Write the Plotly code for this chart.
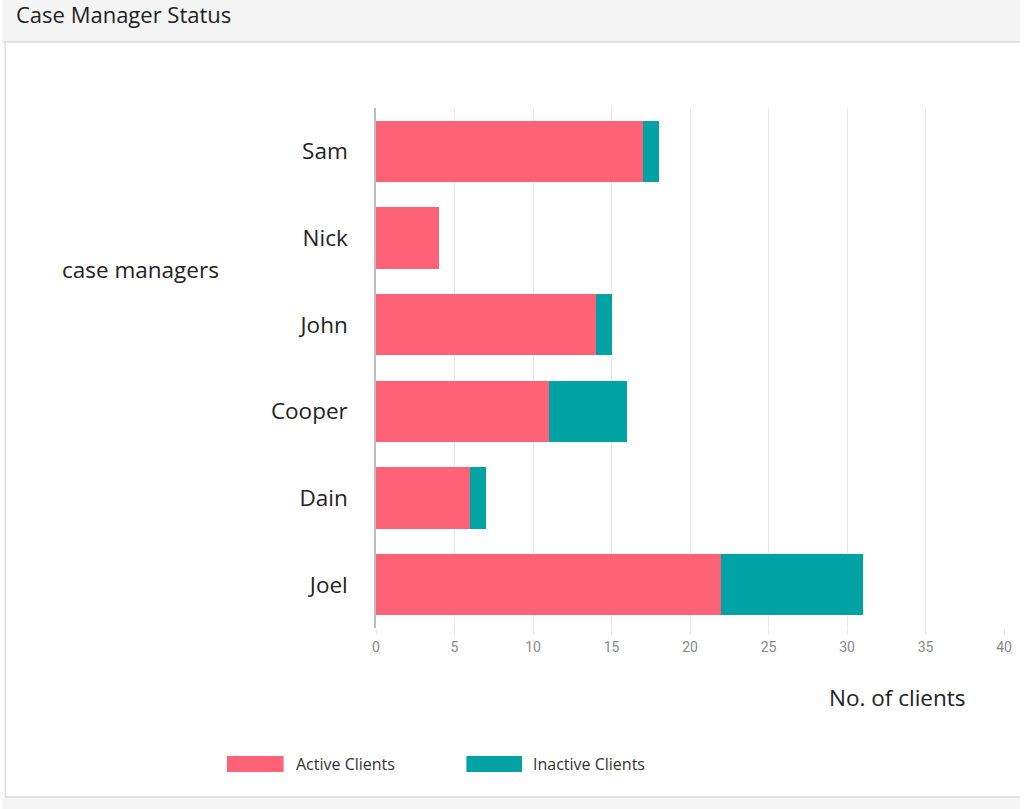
import plotly.graph_objects as go

# dados
managers = ['Sam', 'Nick', 'John', 'Cooper', 'Dain', 'Joel']
active_clients = [17, 4, 14, 11, 6, 22]
inactive_clients = [1, 0, 1, 5, 1, 9]
x_ticks = [0, 5, 10, 15, 20, 25, 30, 35, 40]

W, H = 1024, 809
L, R, T, B = 376, 16, 108, 181
PW, PH = W - L - R, H - T - B


# converte pixels da página para coordenadas "paper"
def px(x):
    return (x - L) / PW


def py(y):
    return (H - B - y) / PH


red = '#fd6276'
teal = '#00a2a3'
font = 'Open Sans'

fig = go.Figure()
fig.add_trace(go.Bar(y=managers, x=active_clients, orientation='h', name='Active Clients',
                     marker=dict(color=red, line=dict(width=0))))
fig.add_trace(go.Bar(y=managers, x=inactive_clients, orientation='h', name='Inactive Clients',
                     marker=dict(color=teal, line=dict(width=0))))

shapes = [
    # cabeçalho cinza
    dict(type='rect', xref='paper', yref='paper', x0=px(0), x1=px(W), y0=py(42), y1=py(0),
         fillcolor='#f4f4f4', line=dict(width=0), layer='below'),
    dict(type='line', xref='paper', yref='paper', x0=px(0), x1=px(W), y0=py(42), y1=py(42),
         line=dict(color='#d8d8d8', width=1.5)),
    # borda do painel
    dict(type='line', xref='paper', yref='paper', x0=px(3), x1=px(3), y0=py(797), y1=py(42),
         line=dict(color='#dcdcdc', width=1.5)),
    dict(type='rect', xref='paper', yref='paper', x0=px(0), x1=px(W), y0=py(H), y1=py(797),
         fillcolor='#f5f5f5', line=dict(width=0), layer='below'),
    dict(type='line', xref='paper', yref='paper', x0=px(3), x1=px(W), y0=py(797), y1=py(797),
         line=dict(color='#d8d8d8', width=1.5)),
    # legenda
    dict(type='rect', xref='paper', yref='paper', x0=px(226), x1=px(283), y0=py(772), y1=py(756),
         fillcolor=red, line=dict(width=0)),
    dict(type='rect', xref='paper', yref='paper', x0=px(467), x1=px(523), y0=py(772), y1=py(756),
         fillcolor=teal, line=dict(width=0)),
]

annotations = [
    dict(text='case managers', xref='paper', yref='paper', x=px(58), y=py(269),
         xanchor='left', yanchor='middle', showarrow=False,
         font=dict(family=font, size=22.5, color='#222')),
    dict(text='No. of clients', xref='paper', yref='paper', x=px(901), y=py(697),
         xanchor='center', yanchor='middle', showarrow=False,
         font=dict(family=font, size=22.5, color='#222')),
    dict(text='Active Clients', xref='paper', yref='paper', x=px(293), y=py(764),
         xanchor='left', yanchor='middle', showarrow=False,
         font=dict(family=font, size=16, color='#333')),
    dict(text='Inactive Clients', xref='paper', yref='paper', x=px(532), y=py(764),
         xanchor='left', yanchor='middle', showarrow=False,
         font=dict(family=font, size=16, color='#333')),
]

fig.update_layout(
    width=W, height=H,
    margin=dict(l=L, r=R, t=T, b=B),
    barmode='stack', bargap=0.29,
    paper_bgcolor='white', plot_bgcolor='white',
    showlegend=False,
    title=dict(text='Case Manager Status', x=16 / W, xanchor='left', xref='container',
               y=1 - 15 / H, yanchor='middle', yref='container',
               font=dict(family=font, size=22, color='#222')),
    shapes=shapes,
    annotations=annotations,
)

fig.update_xaxes(range=[0, 40], tickvals=x_ticks, showgrid=True, gridcolor='#e6e6e6',
                 zeroline=False, showline=False, ticks='outside', ticklen=6, tickcolor='#e6e6e6',
                 tickfont=dict(family='Liberation Sans Narrow, Roboto', size=14, color='#888'))
fig.update_yaxes(categoryorder='array', categoryarray=managers[::-1], range=[-0.5, 5.5],
                 showline=True, linecolor='#bdbdbd', linewidth=1.5, showgrid=False,
                 ticks='', ticklabelstandoff=22,
                 tickfont=dict(family=font, size=22.5, color='#222'))

# tira a margem padrão do body para a figura ocupar a janela toda
fig.write_html("out.html", config={'displayModeBar': False},
               post_script="document.body.style.margin='0';document.body.style.overflow='hidden';")
